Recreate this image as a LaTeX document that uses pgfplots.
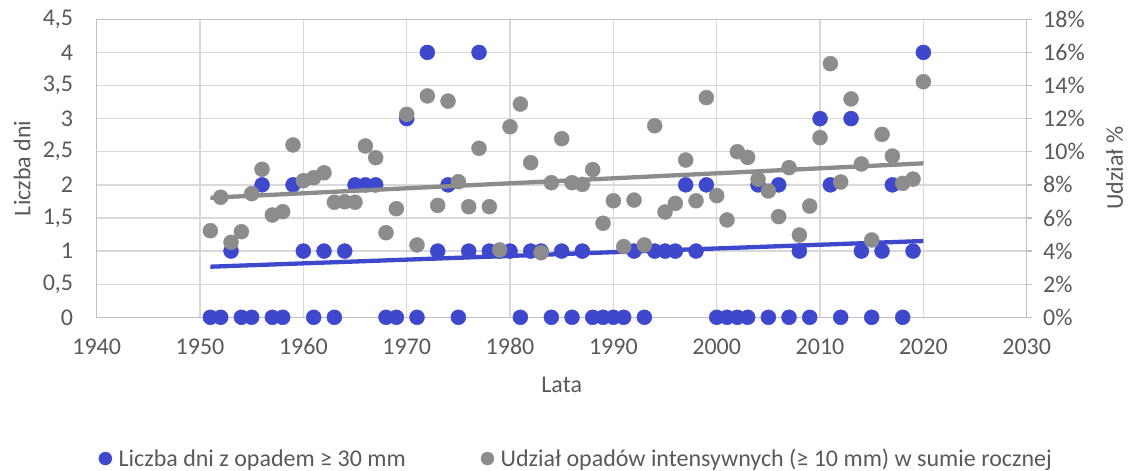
\documentclass[border=0pt]{standalone}
\usepackage{pgfplots}
\usepackage{pgfplotstable}
\pgfplotsset{compat=1.18}
\usepackage{fontspec}
\setmainfont{Carlito}
\definecolor{bl}{RGB}{61,72,204}
\definecolor{gr}{RGB}{140,140,140}
\definecolor{gridc}{RGB}{217,217,217}
\definecolor{axl}{RGB}{191,191,191}
\definecolor{txt}{RGB}{89,89,89}
\newcommand{\fs}{\fontsize{24bp}{28bp}\selectfont}

\pgfplotstableread{
year days
1951 0
1952 0
1953 1
1954 0
1955 0
1956 2
1957 0
1958 0
1959 2
1960 1
1961 0
1962 1
1963 0
1964 1
1965 2
1966 2
1967 2
1968 0
1969 0
1970 3
1971 0
1972 4
1973 1
1974 2
1975 0
1976 1
1977 4
1978 1
1979 1
1980 1
1981 0
1982 1
1983 1
1984 0
1985 1
1986 0
1987 1
1988 0
1989 0
1990 0
1991 0
1992 1
1993 0
1994 1
1995 1
1996 1
1997 2
1998 1
1999 2
2000 0
2001 0
2002 0
2003 0
2004 2
2005 0
2006 2
2007 0
2008 1
2009 0
2010 3
2011 2
2012 0
2013 3
2014 1
2015 0
2016 1
2017 2
2018 0
2019 1
2020 4
}\bluedata

\pgfplotstableread{
year pct
1951 5.23
1952 7.25
1953 4.53
1954 5.17
1955 7.47
1956 8.94
1957 6.18
1958 6.38
1959 10.41
1960 8.25
1961 8.43
1962 8.73
1963 6.95
1964 6.98
1965 6.95
1966 10.35
1967 9.64
1968 5.11
1969 6.56
1970 12.26
1971 4.37
1972 13.37
1973 6.76
1974 13.06
1975 8.19
1976 6.68
1977 10.21
1978 6.68
1979 4.07
1980 11.51
1981 12.88
1982 9.34
1983 3.90
1984 8.13
1985 10.79
1986 8.13
1987 8.03
1988 8.92
1989 5.68
1990 7.04
1991 4.27
1992 7.08
1993 4.37
1994 11.57
1995 6.36
1996 6.88
1997 9.50
1998 7.04
1999 13.27
2000 7.35
2001 5.88
2002 10.00
2003 9.66
2004 8.34
2005 7.63
2006 6.08
2007 9.04
2008 4.97
2009 6.72
2010 10.85
2011 15.32
2012 8.17
2013 13.19
2014 9.26
2015 4.67
2016 11.05
2017 9.74
2018 8.09
2019 8.35
2020 14.23
}\graydata

\begin{document}
\begin{tikzpicture}
\path[use as bounding box] (-96.7bp,-153.7bp) rectangle (1031.3bp,317.3bp);
\begin{axis}[
  at={(0,0)}, anchor=south west, scale only axis,
  width=930bp, height=298bp,
  xmin=1940, xmax=2030, ymin=0, ymax=4.5,
  xtick={1940,1950,...,2030},
  ytick={0,0.5,1,1.5,2,2.5,3,3.5,4,4.5},
  yticklabels={0,{0,5},1,{1,5},2,{2,5},3,{3,5},4,{4,5}},
  /pgf/number format/1000 sep={},
  /pgf/number format/assume math mode=true,
  grid=major,
  major grid style={draw=gridc, line width=1.3bp},
  axis line style={draw=axl, line width=1.3bp},
  major tick length=0pt,
  tick label style={font=\fs, text=txt},
  xticklabel style={anchor=center, yshift=-29bp, inner sep=0pt},
  yticklabel style={anchor=east, xshift=-23.4bp, inner sep=0pt},
  xlabel={Lata},
  xlabel style={at={(axis description cs:0.5,-0.2272)}, anchor=center, font=\fs, text=txt, inner sep=0pt},
  ylabel={Liczba dni},
  ylabel style={at={(axis description cs:-0.0803,0.5)}, anchor=center, font=\fs, text=txt, inner sep=0pt},
  clip=false,
  legend columns=2,
  legend image code/.code={\fill (0bp,0bp) circle (6.5bp);},
  legend style={at={(axis description cs:0.0019,-0.474)}, anchor=west,
    draw=none, fill=none, inner sep=0pt, font=\fs, text=txt,
    nodes={inner sep=0pt},
    /tikz/every odd column/.append style={column sep=6.5bp},
    /tikz/every even column/.append style={column sep=75bp}},
]
\addplot[only marks, mark=*, color=bl, mark size=7.5bp] table[x=year, y=days] {\bluedata};
\addlegendentry{Liczba dni z opadem ≥ 30 mm}
\addplot[color=bl, line width=4.3bp, forget plot] coordinates {(1951,0.764) (2020,1.152)};
\addlegendimage{color=gr}
\addlegendentry{Udział opadów intensywnych (≥ 10 mm) w sumie rocznej}
\end{axis}
\begin{axis}[
  at={(0,0)}, anchor=south west, scale only axis,
  width=930bp, height=298bp,
  xmin=1940, xmax=2030, ymin=0, ymax=18,
  axis y line*=right, axis x line=none,
  ytick={0,2,4,6,8,10,12,14,16,18},
  yticklabels={0\%,2\%,4\%,6\%,8\%,10\%,12\%,14\%,16\%,18\%},
  axis line style={draw=axl, line width=1.3bp},
  tick align=outside, major tick length=5bp,
  ytick style={draw=axl, line width=1.3bp},
  tick label style={font=\fs, text=txt},
  yticklabel style={anchor=west, xshift=11.3bp, inner sep=0pt},
  ylabel={Udział \%},
  ylabel style={at={(axis description cs:1.0945,0.5)}, anchor=center, font=\fs, text=txt, inner sep=0pt},
  clip=false,
]
\addplot[only marks, mark=*, color=gr, mark size=7.5bp] table[x=year, y=pct] {\graydata};
\addplot[color=gr, line width=4.3bp] coordinates {(1951,7.22) (2020,9.30)};
\end{axis}
\end{tikzpicture}
\end{document}
